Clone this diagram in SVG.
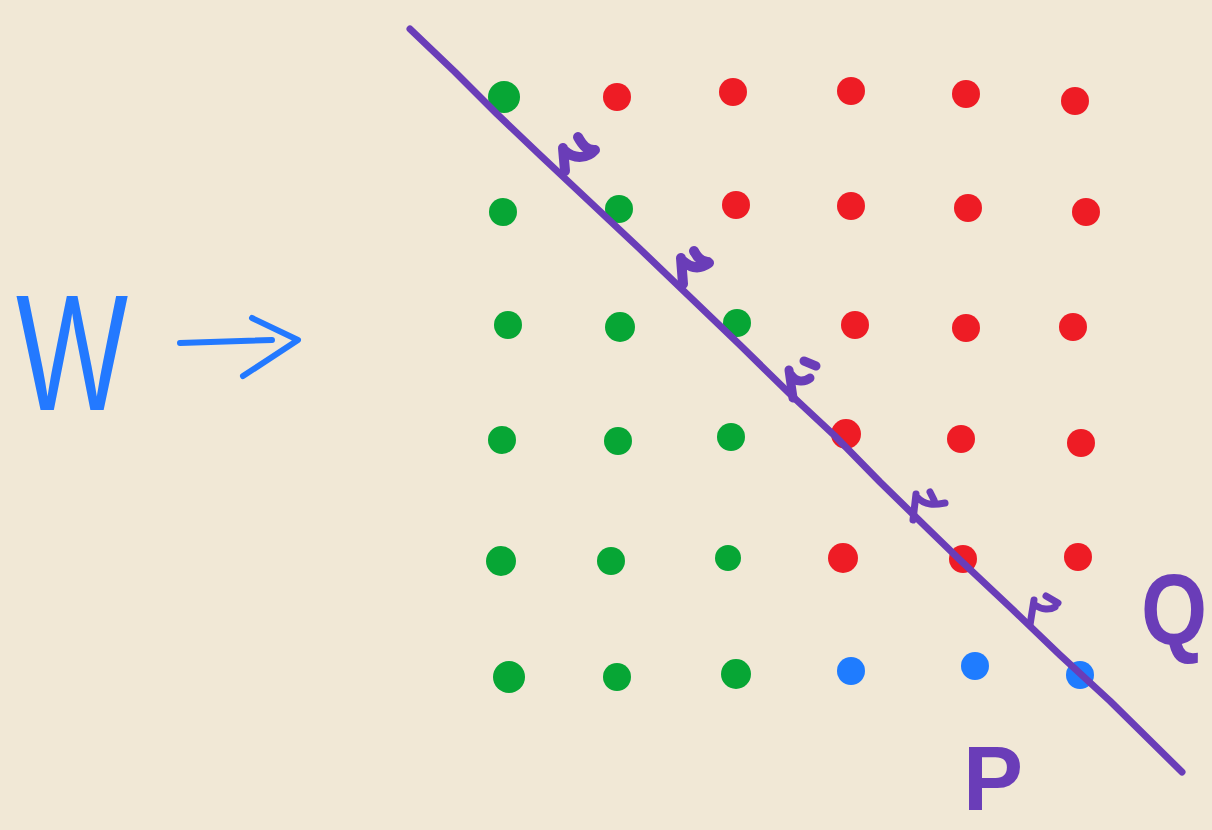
<svg xmlns="http://www.w3.org/2000/svg" width="1212" height="830" viewBox="0 0 1212 830">
<style>
.g{fill:#07a635}.r{fill:#ee1c25}.b{fill:#1f7cff}
.pen{fill:none;stroke:#6a3db8;stroke-linecap:round;stroke-linejoin:round}
.blue{fill:none;stroke:#2379ff;stroke-width:6;stroke-linecap:round;stroke-linejoin:round}
.lbl{font-family:"Liberation Sans",Arial,sans-serif}
</style>
<rect width="1212" height="830" fill="#f1e8d6"/>
<g id="dots">
<circle class="g" cx="504" cy="97" r="16"/><circle class="r" cx="617" cy="97" r="14"/><circle class="r" cx="733" cy="92" r="14"/><circle class="r" cx="851" cy="91" r="14"/><circle class="r" cx="966" cy="94" r="14"/><circle class="r" cx="1075" cy="101" r="14"/>
<circle class="g" cx="503" cy="212" r="14"/><circle class="g" cx="619" cy="209" r="14"/><circle class="r" cx="736" cy="205" r="14"/><circle class="r" cx="851" cy="206" r="14"/><circle class="r" cx="968" cy="208" r="14"/><circle class="r" cx="1086" cy="212" r="14"/>
<circle class="g" cx="508" cy="325" r="14"/><circle class="g" cx="620" cy="327" r="15"/><circle class="g" cx="737" cy="323" r="14"/><circle class="r" cx="855" cy="325" r="14"/><circle class="r" cx="966" cy="328" r="14"/><circle class="r" cx="1073" cy="327" r="14"/>
<circle class="g" cx="502" cy="440" r="14"/><circle class="g" cx="618" cy="441" r="14"/><circle class="g" cx="731" cy="437" r="14"/><circle class="r" cx="846" cy="434" r="15"/><circle class="r" cx="961" cy="439" r="14"/><circle class="r" cx="1081" cy="443" r="14"/>
<circle class="g" cx="501" cy="561" r="15"/><circle class="g" cx="611" cy="561" r="14"/><circle class="g" cx="728" cy="558" r="13"/><circle class="r" cx="843" cy="558" r="15"/><circle class="r" cx="963" cy="559" r="14"/><circle class="r" cx="1078" cy="557" r="14"/>
<circle class="g" cx="509" cy="677" r="16"/><circle class="g" cx="617" cy="677" r="14"/><circle class="g" cx="736" cy="674" r="15"/><circle class="b" cx="851" cy="671" r="14"/><circle class="b" cx="975" cy="666" r="14"/><circle class="b" cx="1080" cy="675" r="14"/>
</g>
<g id="line">
<path class="pen" stroke-width="7" d="M410,29 L455,72 L497,114 L540,155 L590,202 L640,249 L690,297 L740,345 L790,394 L835,436 L880,482 L925,526 L960,560 L1010,607 L1060,655 L1110,701 L1182,772"/>
<path class="pen" stroke-width="10" d="M563,148 L565,171 M565,151 C575,160 588,158 595,150 M578,137 C583,146 587,150 594,150"/>
<path class="pen" stroke-width="10" d="M681,258 L683,284 M683,261 C693,270 702,268 709,263 M694,251 C698,259 703,262 708,262"/>
<path class="pen" stroke-width="9" d="M789,370 L793,398 M791,375 C796,383 805,382 810,378 M804,361 L816,366"/>
<path class="pen" stroke-width="7" d="M916,494 L913,520 M917,497 C925,506 935,505 945,503 M930,492 L934,500"/>
<path class="pen" stroke-width="7" d="M1034,600 L1030,625 M1035,605 C1042,610 1050,610 1055,607 M1046,596 L1058,603"/>
</g>
<g id="label-W">
<text class="lbl" x="0" y="0" font-size="165" fill="#2379ff" transform="translate(16,410) scale(0.72,1)">W</text>
</g>
<g id="arrow">
<path class="blue" d="M180,343 L272,340 M252,318 L298,340 L243,376"/>
</g>
<g id="label-P">
<text class="lbl" x="963" y="810" font-size="90" font-weight="bold" fill="#6a3db8">P</text>
</g>
<g id="label-Q">
<text class="lbl" x="0" y="0" font-size="100" font-weight="bold" fill="#6a3db8" transform="translate(1141,644) scale(0.85,1)">Q</text>
</g>
</svg>
